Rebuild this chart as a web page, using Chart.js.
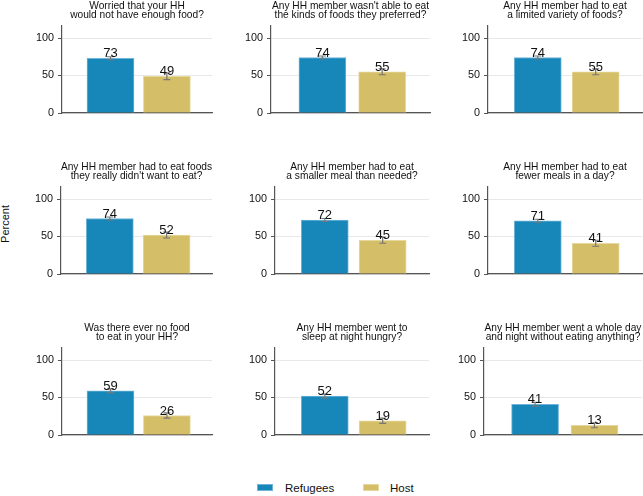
<!DOCTYPE html>
<html>
<head>
<meta charset="utf-8">
<script src="https://cdn.jsdelivr.net/npm/chart.js@4/dist/chart.umd.min.js"></script>
<style>
  html, body { margin: 0; padding: 0; background: #fff; }
  body { width: 643px; height: 496px; position: relative; overflow: hidden;
         font-family: "Liberation Sans", Arial, Helvetica, sans-serif; color: #111; }
  canvas { position: absolute; }
  #ylabel { position: absolute; left: 5px; top: 224px; font-size: 11px;
            transform: translate(-50%, -50%) rotate(-90deg); white-space: nowrap; }
  .sw { position: absolute; width: 16px; height: 7px; }
  .lg { position: absolute; font-size: 11.5px; line-height: 14px; }
</style>
</head>
<body>
<div id="ylabel">Percent</div>
<div class="sw" style="left:257px; top:484px; background:#1787BA; border:1px solid #6FB4D8; box-sizing:border-box;"></div>
<div class="lg" style="left:285px; top:481px;">Refugees</div>
<div class="sw" style="left:363px; top:484px; background:#D4BE68; border:1px solid #E6D89C; box-sizing:border-box;"></div>
<div class="lg" style="left:390px; top:481px;">Host</div>

<script>
// questions (two-line panel titles)
const titles = [
    ["Worried that your HH", "would not have enough food?"],
    ["Any HH member wasn't able to eat", "the kinds of foods they preferred?"],
    ["Any HH member had to eat", "a limited variety of foods?"],
    ["Any HH member had to eat foods", "they really didn't want to eat?"],
    ["Any HH member had to eat", "a smaller meal than needed?"],
    ["Any HH member had to eat", "fewer meals in a day?"],
    ["Was there ever no food", "to eat in your HH?"],
    ["Any HH member went to", "sleep at night hungry?"],
    ["Any HH member went a whole day", "and night without eating anything?"]
];
const groups = ["Refugees", "Host"];
const refugees = [73, 74, 74, 74, 72, 71, 59, 52, 41];
const host = [49, 55, 55, 52, 45, 41, 26, 19, 13];
// half-width of the confidence intervals
const refugeesErr = [2, 2, 2, 2, 2, 2, 2.5, 2.5, 2.5];
const hostErr = [4.5, 4, 4, 4, 4, 4, 3.5, 3.5, 3.3];
const yTicks = [0, 50, 100];

// panel placement: y axis x, plot right edge, plot top
const panels = [
    [62, 212, 26], [271, 430, 26], [488, 642, 26],
    [61, 212, 187], [275, 429, 187], [488, 642, 187],
    [62, 212, 348], [275, 429, 348], [484, 642, 348]
];
const AXIS_W = 40, TOP_PAD = 26, PLOT_H = 87, BOTTOM_PAD = 10, RIGHT_PAD = 2;

const colors = ['#1787BA', '#D4BE68'];
const borders = ['#6FB4D8', '#E6D89C'];

Chart.defaults.font.family = '"Liberation Sans", Arial, Helvetica, sans-serif';
Chart.defaults.color = '#111';

// title over the plot area, error bars and value labels
const panelDeco = {
    id: 'panelDeco',
    afterDatasetsDraw(chart, args, opts) {
        const ctx = chart.ctx;
        const area = chart.chartArea;
        const xs = chart.scales.x, ys = chart.scales.y;
        ctx.save();
        // title
        ctx.fillStyle = '#111';
        ctx.font = '10.2px "Liberation Sans", Arial, sans-serif';
        ctx.textAlign = 'center';
        ctx.textBaseline = 'alphabetic';
        const cx = (area.left + area.right) / 2;
        ctx.fillText(opts.title[0], cx, area.top - 17);
        ctx.fillText(opts.title[1], cx, area.top - 7.7);
        // error bars
        ctx.strokeStyle = '#777';
        ctx.lineWidth = 1.2;
        opts.values.forEach((v, i) => {
            const x = xs.getPixelForValue(i + 1);
            const y1 = ys.getPixelForValue(v - opts.errs[i]);
            const y2 = ys.getPixelForValue(v + opts.errs[i]);
            ctx.beginPath();
            ctx.moveTo(x, y1); ctx.lineTo(x, y2);
            ctx.moveTo(x - 3.5, y1); ctx.lineTo(x + 3.5, y1);
            ctx.moveTo(x - 3.5, y2); ctx.lineTo(x + 3.5, y2);
            ctx.stroke();
        });
        // value labels
        ctx.fillStyle = '#111';
        ctx.font = '13px "Liberation Sans", Arial, sans-serif';
        opts.values.forEach((v, i) => {
            const x = xs.getPixelForValue(i + 1);
            ctx.fillText(String(v), x, ys.getPixelForValue(v) - 1);
        });
        ctx.restore();
    }
};

panels.forEach((p, k) => {
    const [axisX, right, top] = p;
    const plotW = right - axisX;
    const cv = document.createElement('canvas');
    const w = AXIS_W + plotW + RIGHT_PAD;
    const h = TOP_PAD + PLOT_H + BOTTOM_PAD;
    cv.width = w; cv.height = h;
    cv.style.width = w + 'px'; cv.style.height = h + 'px';
    cv.style.left = (axisX - AXIS_W) + 'px';
    cv.style.top = (top - TOP_PAD) + 'px';
    document.body.appendChild(cv);

    const values = [refugees[k], host[k]];
    new Chart(cv, {
        type: 'bar',
        data: {
            datasets: [{
                data: values.map((v, i) => ({ x: i + 1, y: v })),
                backgroundColor: colors,
                borderColor: borders,
                borderWidth: 1,
                barThickness: 47,
            }],
        },
        options: {
            responsive: false,
            animation: false,
            layout: { padding: { top: TOP_PAD, bottom: BOTTOM_PAD, right: RIGHT_PAD, left: 0 } },
            plugins: {
                legend: { display: false },
                tooltip: { enabled: false },
                panelDeco: { title: titles[k], values: values, errs: [refugeesErr[k], hostErr[k]] },
            },
            scales: {
                x: {
                    type: 'linear',
                    min: 0.14,
                    max: 2.8,
                    offset: false,
                    ticks: { display: false },
                    grid: { display: false },
                    border: { display: true, color: '#555', width: 1.2 },
                    afterFit: (s) => { s.height = 0; s.paddingLeft = 0; s.paddingRight = 0; },
                },
                y: {
                    min: 0,
                    max: 116,
                    afterBuildTicks: (s) => { s.ticks = yTicks.map(v => ({ value: v })); },
                    ticks: { font: { size: 10.8 }, color: '#111', padding: 4 },
                    grid: { color: '#E8E8E8', lineWidth: 1, tickColor: '#555', tickLength: 4 },
                    border: { display: true, color: '#555', width: 1.2 },
                    afterFit: (s) => { s.width = AXIS_W; s.paddingTop = 0; s.paddingBottom = 0; },
                },
            },
        },
        plugins: [panelDeco],
    });
});
</script>
</body>
</html>
